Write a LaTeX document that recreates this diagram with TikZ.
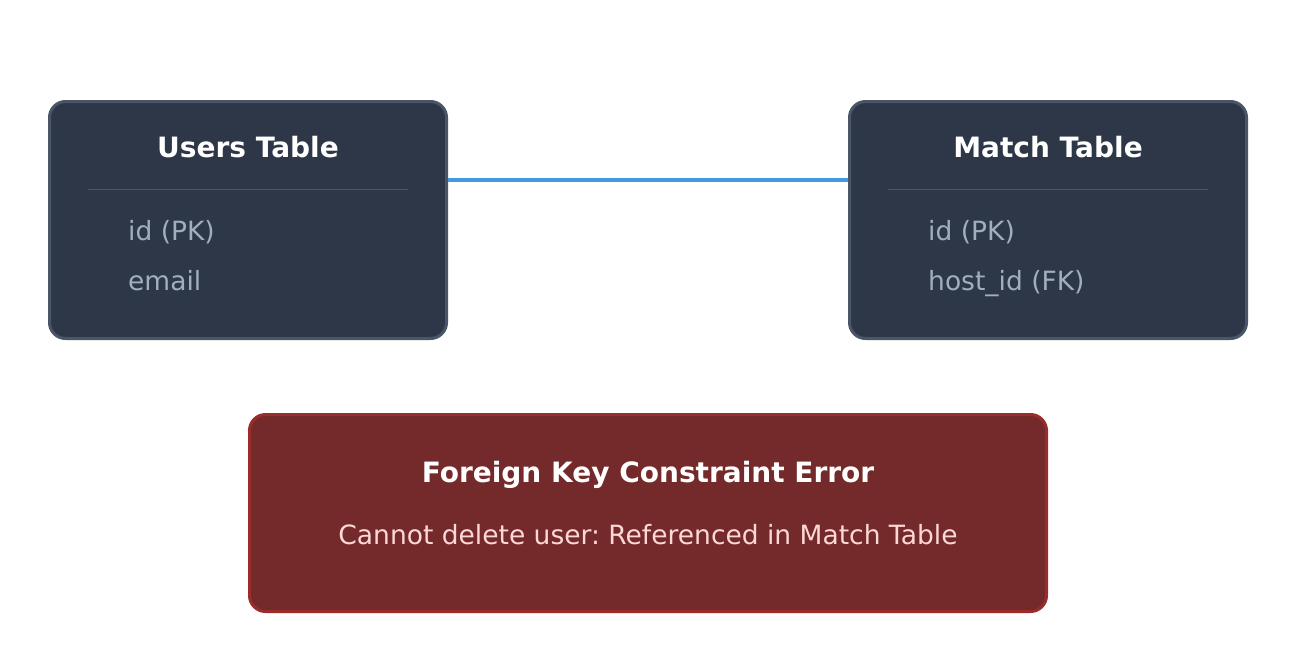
\documentclass[tikz,border=0pt]{standalone}
\usepackage{fontspec}
\setmainfont{DejaVu Sans}
\usetikzlibrary{positioning,calc}

\definecolor{tablefill}{HTML}{2D3748}
\definecolor{tableline}{HTML}{4A5568}
\definecolor{fieldtext}{HTML}{A0AEC0}
\definecolor{linkblue}{HTML}{4299E1}
\definecolor{errorfill}{HTML}{742A2A}
\definecolor{errorline}{HTML}{9B2C2C}
\definecolor{errortext}{HTML}{FED7D7}

\tikzset{
  tablebox/.style={draw=tableline, fill=tablefill, line width=3pt, rounded corners=16pt,
    minimum width=397pt, minimum height=237pt, inner sep=0pt},
  errorbox/.style={draw=errorline, fill=errorfill, line width=3pt, rounded corners=16pt,
    minimum width=797pt, minimum height=197pt, inner sep=0pt},
  tabletitle/.style={text=white, font=\bfseries\fontsize{28}{32}\selectfont, anchor=base, inner sep=0pt},
  fieldname/.style={text=fieldtext, font=\fontsize{26.5}{30}\selectfont, anchor=base west, inner sep=0pt},
  errormsg/.style={text=errortext, font=\fontsize{26.5}{30}\selectfont, anchor=base, inner sep=0pt}
}

\begin{document}
\frenchspacing
\begin{tikzpicture}[x=1pt, y=-1pt]
  \useasboundingbox (0,0) rectangle (1294,670);

  % Define the two tables and the error box
  \node[tablebox] (users) at (248,220) {};
  \node[tablebox] (match) at (1048,220) {};
  \node[errorbox] (fkerror) at (648,513) {};

  % Link between the tables
  \draw[linkblue, line width=4pt]
    ($(users.north east)!0.333!(users.south east)$) -- ($(match.north west)!0.333!(match.south west)$);

  % Users table
  \node[tabletitle] (users_title) at (248,157) {Users Table};
  \draw[tableline, line width=1pt] ($(users.west)+(40,-31)$) -- ($(users.east)+(-40,-31)$);
  \node[fieldname] (users_id) at (128,240) {id (PK)};
  \node[fieldname] (users_email) at (128,290) {email};

  % Match table
  \node[tabletitle] (match_title) at (1048,157) {Match Table};
  \draw[tableline, line width=1pt] ($(match.west)+(40,-31)$) -- ($(match.east)+(-40,-31)$);
  \node[fieldname] (match_id) at (928,240) {id (PK)};
  \node[fieldname] (match_host) at (928,290) {host\_id (FK)};

  % Error message
  \node[tabletitle] (fkerror_title) at (648,482) {Foreign Key Constraint Error};
  \node[errormsg] (fkerror_msg) at (648,544) {Cannot delete user: Referenced in Match Table};
\end{tikzpicture}
\end{document}
